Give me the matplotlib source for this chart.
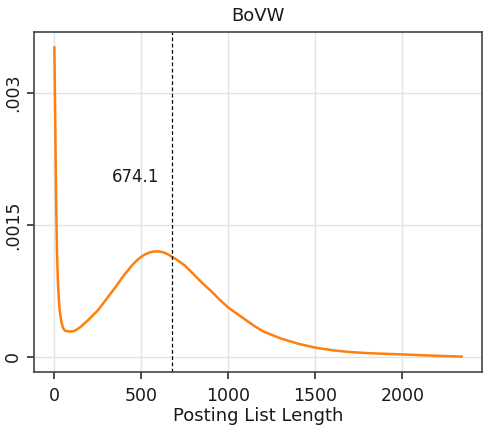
import matplotlib
matplotlib.use("Agg")
import matplotlib.pyplot as plt
from matplotlib.ticker import FixedLocator, FixedFormatter

# posting list length vs density
lengths = [0, 5, 10, 15, 20, 25, 30, 40, 50, 60, 80, 100, 120, 150, 200, 250,
           300, 350, 400, 450, 475, 500, 525, 550, 575, 600, 625, 650, 700,
           750, 800, 850, 900, 950, 1000, 1050, 1100, 1150, 1200, 1300, 1400,
           1500, 1600, 1700, 1800, 1900, 2000, 2100, 2200, 2340]
density = [0.00352, 0.0027, 0.0018, 0.0012, 0.00088, 0.00068, 0.00054,
           0.00040, 0.00033, 0.00030, 0.00029, 0.00029, 0.00030, 0.00034,
           0.00043, 0.00053, 0.00066, 0.00079, 0.00093, 0.00105, 0.00110,
           0.00114, 0.00117, 0.00119, 0.00120, 0.00120, 0.00119, 0.00117,
           0.00111, 0.00104, 0.00094, 0.00084, 0.00075, 0.00065, 0.00056,
           0.00049, 0.00042, 0.00035, 0.00029, 0.00021, 0.00015, 0.000105,
           0.000075, 0.000055, 0.000043, 0.000035, 0.000028, 0.00002,
           0.000012, 0.000004]
mean_length = 674.1

y_ticks = [0, 0.0015, 0.003]
y_tick_labels = ["0", ".0015", ".003"]
x_ticks = [0, 500, 1000, 1500, 2000]

plt.rcParams['font.family'] = ['DejaVu Sans']

fig = plt.figure(figsize=(4.84, 4.28), dpi=100)
ax = fig.add_axes([34 / 484, 56 / 428, 448 / 484, 340 / 428])

ax.plot(lengths, density, color='#ff7f0e', linewidth=1.8)
ax.axvline(mean_length, color='black', linestyle='--', linewidth=0.9, dashes=(3, 2))
ax.text(605, 0.00205, f"{mean_length}", ha='right', va='center', fontsize=12,
        color='#1a1a1a')

ax.xaxis.set_major_locator(FixedLocator(x_ticks))
ax.yaxis.set_major_locator(FixedLocator(y_ticks))
ax.yaxis.set_major_formatter(FixedFormatter(y_tick_labels))
for lab in ax.get_yticklabels():
    lab.set_rotation(90)
    lab.set_va('center')

ax.grid(True, color='#e3e3e3', linewidth=1)
ax.set_axisbelow(True)
for s in ax.spines.values():
    s.set_color('#444444')
    s.set_linewidth(1.2)
ax.tick_params(colors='#1a1a1a', labelsize=12.5, length=5, width=1.1)
ax.tick_params(axis='x', pad=6)

ax.set_title("BoVW", fontsize=13, color='#1a1a1a', pad=8)
ax.set_xlabel("Posting List Length", fontsize=13, color='#1a1a1a', labelpad=1)

fig.savefig("out.png", dpi=100)
